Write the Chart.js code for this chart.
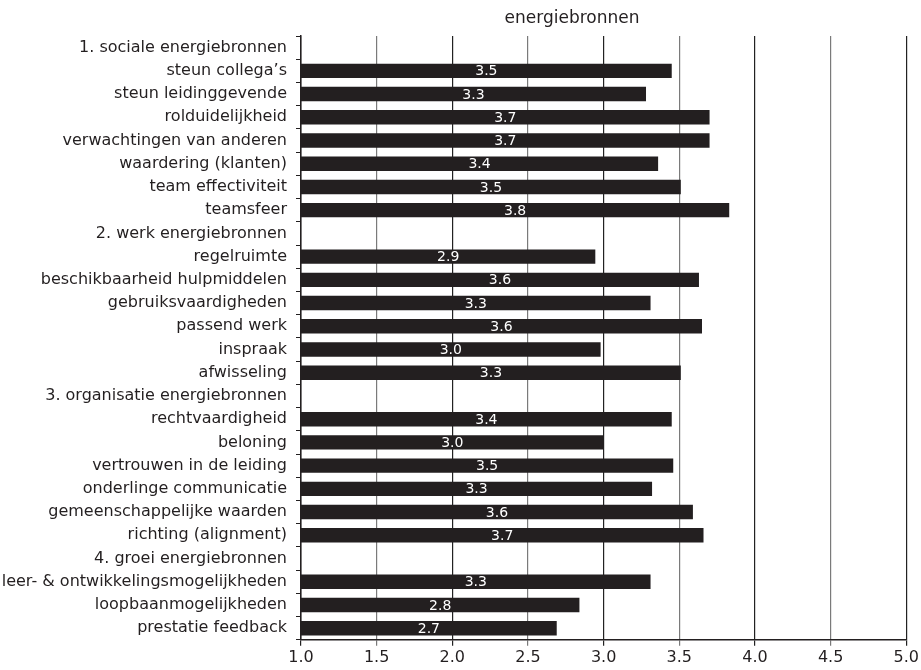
<!DOCTYPE html>
<html>
<head>
<meta charset="utf-8">
<script src="https://cdn.jsdelivr.net/npm/chart.js@4/dist/chart.umd.min.js"></script>
<style>
  html, body { margin: 0; padding: 0; background: #fff; }
  #wrap { width: 921px; height: 670px; }
</style>
</head>
<body>
<div id="wrap"><canvas id="chart" width="921" height="670"></canvas></div>
<script>
const chartTitle = "energiebronnen";

const categories = [
    "1. sociale energiebronnen",
    "steun collega’s",
    "steun leidinggevende",
    "rolduidelijkheid",
    "verwachtingen van anderen",
    "waardering (klanten)",
    "team effectiviteit",
    "teamsfeer",
    "2. werk energiebronnen",
    "regelruimte",
    "beschikbaarheid hulpmiddelen",
    "gebruiksvaardigheden",
    "passend werk",
    "inspraak",
    "afwisseling",
    "3. organisatie energiebronnen",
    "rechtvaardigheid",
    "beloning",
    "vertrouwen in de leiding",
    "onderlinge communicatie",
    "gemeenschappelijke waarden",
    "richting (alignment)",
    "4. groei energiebronnen",
    "leer- & ontwikkelingsmogelijkheden",
    "loopbaanmogelijkheden",
    "prestatie feedback"
];

// bar lengths as drawn
const scores = [
    null, 3.45, 3.28, 3.70, 3.70, 3.36, 3.51, 3.83,
    null, 2.945, 3.63, 3.31, 3.65, 2.98, 3.51,
    null, 3.45, 3.00, 3.46, 3.32, 3.59, 3.66,
    null, 3.31, 2.84, 2.69
];

// printed labels inside the bars
const scoreLabels = [
    "", "3.5", "3.3", "3.7", "3.7", "3.4", "3.5", "3.8",
    "", "2.9", "3.6", "3.3", "3.6", "3.0", "3.3",
    "", "3.4", "3.0", "3.5", "3.3", "3.6", "3.7",
    "", "3.3", "2.8", "2.7"
];

const xMin = 1.0;
const xMax = 5.0;
const xStep = 0.5;

const ink = "#231f20";
const fontFamily = "'DejaVu Sans', sans-serif";

// white value text centred on each bar, plus the title
const barLabels = {
    id: "barLabels",
    afterDatasetsDraw(chart) {
        const ctx = chart.ctx;
        const meta = chart.getDatasetMeta(0);
        const left = chart.chartArea.left;
        ctx.save();
        ctx.fillStyle = "#ffffff";
        ctx.font = "14px " + fontFamily;
        ctx.textAlign = "center";
        ctx.textBaseline = "middle";
        meta.data.forEach((bar, i) => {
            if (scores[i] == null) return;
            ctx.fillText(scoreLabels[i], (left + bar.x) / 2, bar.y + 1);
        });
        ctx.fillStyle = ink;
        ctx.font = "17px " + fontFamily;
        ctx.fillText(chartTitle, 572, 19);
        ctx.restore();
    }
};

const ctx = document.getElementById("chart").getContext("2d");
new Chart(ctx, {
    type: "bar",
    data: {
        labels: categories,
        datasets: [{
            data: scores,
            backgroundColor: ink,
            borderWidth: 0,
            barPercentage: 0.62,
            categoryPercentage: 1.0
        }]
    },
    options: {
        indexAxis: "y",
        responsive: false,
        animation: false,
        layout: { padding: { top: 36, right: 4, bottom: 1, left: 0 } },
        plugins: {
            legend: { display: false },
            tooltip: { enabled: false },
            title: { display: false }
        },
        scales: {
            x: {
                min: xMin,
                max: xMax,
                ticks: {
                    stepSize: xStep,
                    color: ink,
                    font: { family: fontFamily, size: 16 },
                    padding: 2,
                    callback: (v) => Number(v).toFixed(1)
                },
                grid: {
                    color: (c) => (c.tick && Number.isInteger(c.tick.value)) ? "#222" : "#7a7a7a",
                    lineWidth: 1.2,
                    tickLength: 6
                },
                border: { display: true, color: ink, width: 1.5 }
            },
            y: {
                ticks: {
                    color: ink,
                    font: { family: fontFamily, size: 16 },
                    padding: 9,
                    autoSkip: false
                },
                grid: {
                    drawOnChartArea: false,
                    color: ink,
                    tickLength: 5,
                    offset: true
                },
                border: { display: true, color: ink, width: 1.5 },
                afterFit: (scale) => { scale.width = 301; }
            }
        }
    },
    plugins: [barLabels]
});
</script>
</body>
</html>
